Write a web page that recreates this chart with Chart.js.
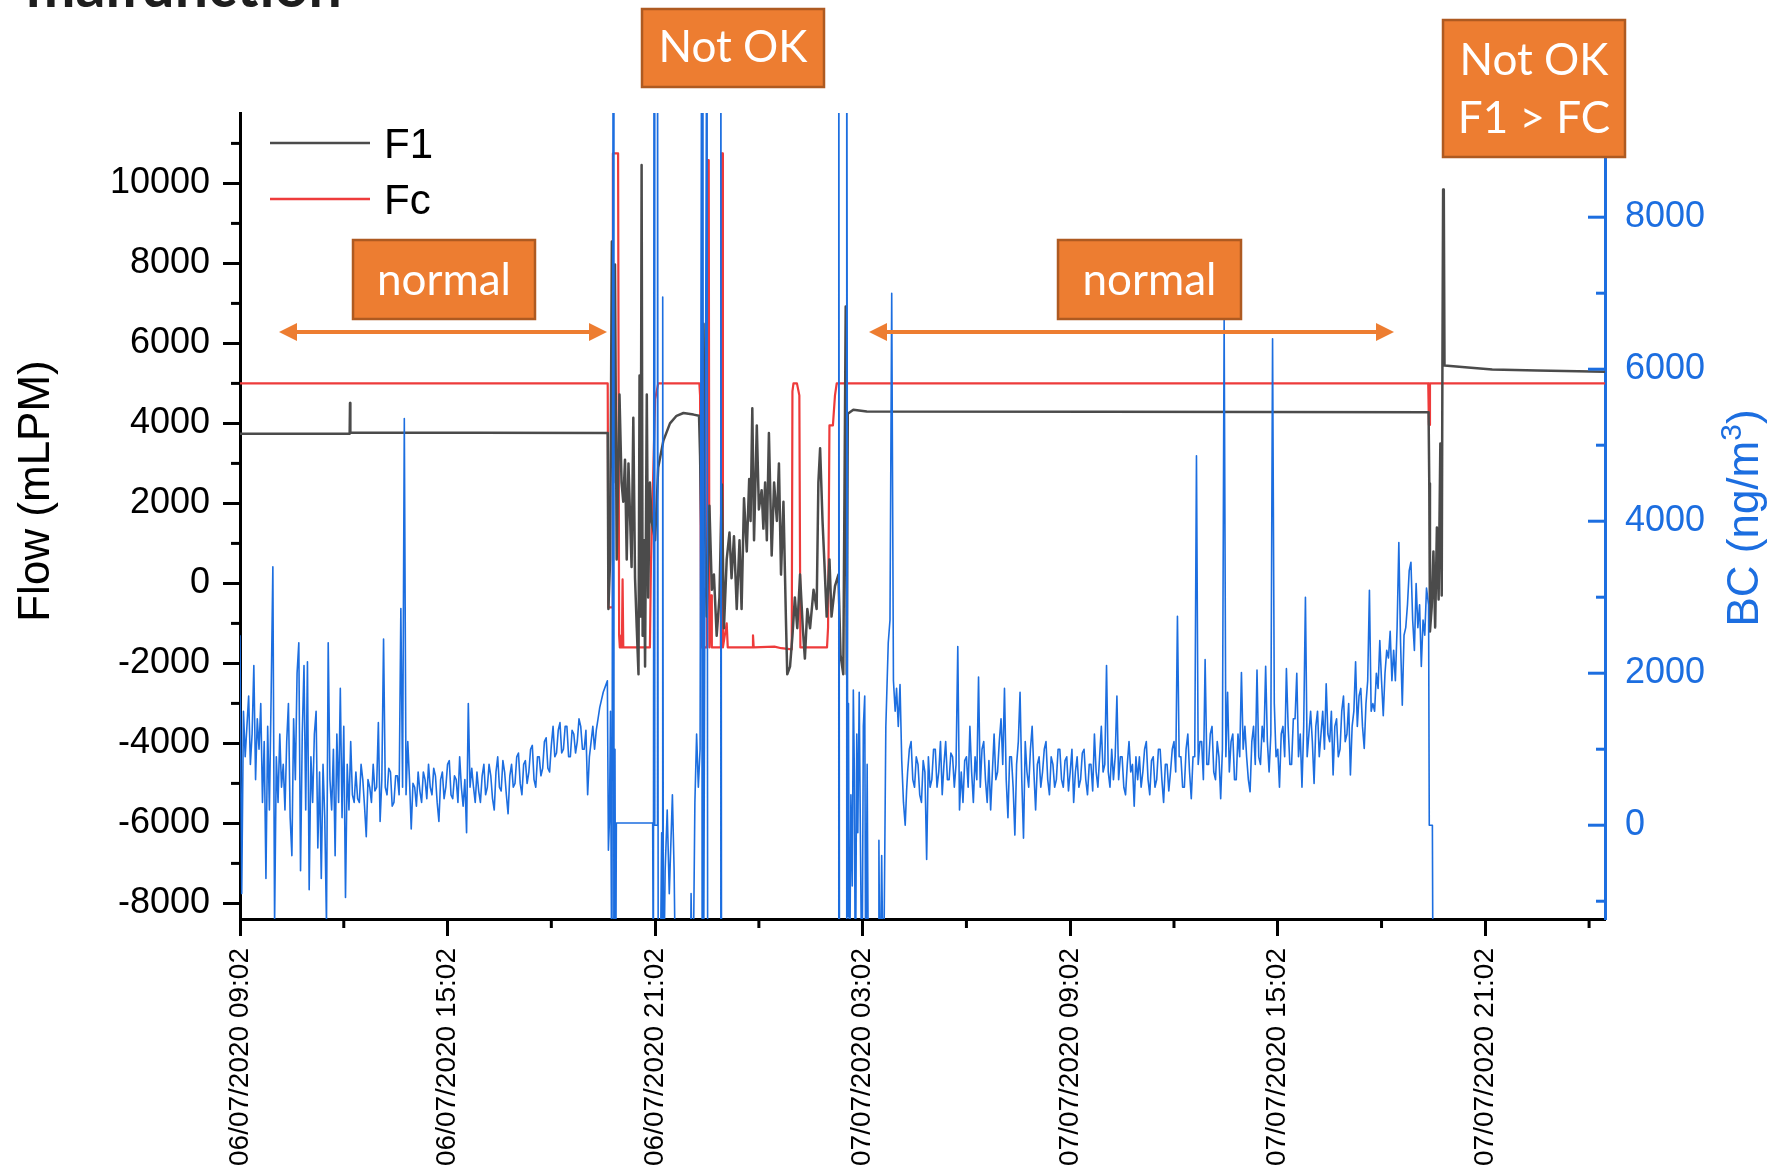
<!DOCTYPE html>
<html>
<head>
<meta charset="utf-8">
<title>Flow and BC</title>
<script src="https://cdn.jsdelivr.net/npm/chart.js@4.4.1/dist/chart.umd.min.js"></script>
<style>
html, body { margin: 0; padding: 0; background: #fff; }
canvas { display: block; }
</style>
</head>
<body>
<canvas id="flow-chart" width="1775" height="1170"></canvas>
<script>
// axis ticks (hours from 06/07/2020 09:02)
const xTickHours = [0, 6, 12, 18, 24, 30, 36],
xTickLabels = ['06/07/2020 09:02', '06/07/2020 15:02', '06/07/2020 21:02', '07/07/2020 03:02',
    '07/07/2020 09:02', '07/07/2020 15:02', '07/07/2020 21:02'],
xMinorHours = [3, 9, 15, 21, 27, 33, 39],
flowTicks = [-8000, -6000, -4000, -2000, 0, 2000, 4000, 6000, 8000, 10000],
flowMinor = [-7000, -5000, -3000, -1000, 1000, 3000, 5000, 7000, 9000, 11000],
bcTicks = [0, 2000, 4000, 6000, 8000],
bcMinor = [-1000, 1000, 3000, 5000, 7000, 9000];

// F1 flow (mLPM)
const f1Hours = [0, 3.17, 3.18, 3.19, 10.63, 10.65, 10.70, 10.75, 10.79, 10.84, 10.89, 10.97, 11.03, 11.08, 11.13,
    11.18, 11.23, 11.28, 11.32, 11.37, 11.42, 11.47, 11.52, 11.55, 11.58, 11.61, 11.64, 11.68, 11.71, 11.76, 11.80,
    11.85, 11.90, 12.00, 12.09, 12.24, 12.43, 12.62, 12.82, 13.11, 13.27, 13.30, 13.35, 13.40, 13.44, 13.49, 13.57,
    13.64, 13.70, 13.78, 13.86, 13.93, 13.99, 14.07, 14.15, 14.21, 14.28, 14.36, 14.44, 14.50, 14.57, 14.65, 14.72,
    14.76, 14.81, 14.86, 14.94, 15.00, 15.08, 15.13, 15.18, 15.23, 15.29, 15.37, 15.44, 15.52, 15.58, 15.64, 15.71,
    15.78, 15.82, 15.90, 15.97, 16.04, 16.11, 16.19, 16.27, 16.33, 16.40, 16.48, 16.58, 16.67, 16.72, 16.77, 16.84,
    16.89, 16.96, 17.04, 17.10, 17.20, 17.30, 17.36, 17.44, 17.51, 17.54, 17.57, 17.73, 18.12, 25.00, 34.36, 34.38,
    34.40, 34.45, 34.50, 34.55, 34.60, 34.65, 34.70, 34.74, 34.76, 34.78, 34.80, 34.82, 35.50, 36.20, 37.50, 39.46];
const f1Flow = [3740, 3740, 4510, 3770, 3760, -640, 600, 8550, 2520, 7970, 600, 4720, 2520, 2040, 3090,
    600, 3000, 1560, 410, 4140, 130, -1120, -2270, 5200, -830, 10460, -1310, 1080, -2080, 4720, -350,
    2520, 1560, 1080, 2900, 3570, 4000, 4190, 4260, 4220, 4190, 3190, 600, 6490, 1560, -830, 1940,
    -160, 220, -1310, -350, 2470, -1120, 600, 1270, 130, 1180, -640, 1080, -640, 2130, 800, 2610,
    1560, 4380, 1080, 3950, 1850, 2330, 1370, 2520, 1080, 3760, 700, 2520, 1560, 3000, 220, 2040,
    -830, -2270, -2080, -1310, -350, -1120, 220, -1120, -1880, -640, -1120, -160, -640, 2520, 3380, 1560,
    600, -830, 600, -830, -70, 220, -1790, -2270, 6920, -2270, 4240, 4340, 4300, 4290, 4280, 2500,
    -1200, -600, 800, -1100, 1400, -400, 3500, -300, 5400, 9850, 9700, 5450, 5400, 5350, 5320, 5290];

// Fc flow (mLPM)
const fcHours = [0, 10.63, 10.65, 10.76, 10.78, 10.93, 10.96, 10.98, 11.04, 11.06, 11.08, 11.80, 11.85, 11.88,
    12.00, 12.09, 13.28, 13.30, 13.33, 13.50, 13.52, 13.55, 13.57, 13.62, 13.64, 13.90, 13.92, 13.94, 13.96,
    14.07, 14.10, 14.81, 14.83, 14.85, 15.45, 15.65, 15.95, 15.97, 16.00, 16.10, 16.17, 16.20, 16.97, 17.00,
    17.04, 17.14, 17.20, 17.25, 34.35, 34.37, 34.39, 34.40, 39.46];
const fcFlow = [5000, 5000, -600, -600, 10750, 10750, -1300, -1600, -1600, 100, -1600, -1600, -1600, 500,
    4600, 5000, 5000, 4700, -1600, -1600, 10580, 10580, -1600, -300, -1600, -1600, 10750, 10750, -1600,
    -1000, -1600, -1600, -1300, -1600, -1580, -1620, -1650, 4800, 5000, 5000, 4700, -1600, -1600, -1100,
    3950, 3950, 4700, 5000, 5000, 3960, 3960, 5000, 5000];

// BC (ng/m3), sampled every 0.05 h outside the fault period
const bcStep = 0.05;
const bcEarlyStart = 0;
const bcEarly = [2500, -900, 1500, 900, 1300, 1700, 800, 1200, 2100, 600, 1400, 1000, 1600, 300, 1100, -700,
    1300, 200, 1700, 3400, -1300, 900, 300, 1200, 500, 800, 200, 1100, 1600, 100, -400, 1400, 600, 2000,
    2400, -600, 1200, 2100, 200, 2150, -850, 900, 300, 1200, 1500, -300, 700, -700, 800, 100, -1300, 2400,
    600, 200, 1000, -400, 1200, 300, 1800, 100, 1300, -950, 800, 200, 1100, 400, 300,
    // 3.40 h onwards
    700, 350, 300, 800, 600, 250, -150, 600, 500, 300, 800, 450,
    500, 1350, 50, 600, 2450, 500, 400, 750, 700, 250, 300, 650, 650, 400, 2850, 500, 5350, 400, 1100, 600,
    -50, 550, 500, 250, 700, 450, 300, 700, 600, 350, 800, 500, 400, 750, 650, 300, 50, 600, 700, 350,
    500, 800, 850, 400, 350, 650, 600, 300, 900, 500, 250, 600, -100, 1600, 500, 750, 500, 300, 700, 450,
    300, 650, 800, 400, 500, 800, 650, 350, 200, 700, 900, 500, 450, 850, 700, 400, 150, 650, 800, 500,
    550, 900, 950, 550, 400, 800, 850, 550, 700, 1000, 1050, 600, 500, 900, 900, 650, 750, 1100, 1150, 750,
    700, 1050, 1300, 900, 950, 1250, 1350, 950, 1000, 1300, 1300, 900, 900, 1250, 1200, 950, 1100, 1400, 1300, 1000,
    1000, 1250, 400, 900, 1100, 1300, 1000, 1250, 1400, 1550, 1650, 1750];
// fault period, off-scale readings
const bcFaultHours = [10.58, 10.62, 10.65, 10.68, 10.71, 10.75, 10.79, 10.81, 10.84, 10.86, 10.88, 11.93, 11.95,
    11.97, 11.99, 12.06, 12.07, 12.09, 12.14, 12.19, 12.21, 12.22, 12.24, 12.29, 12.35, 12.41, 12.50, 12.55,
    12.60, 13.01, 13.04, 13.09, 13.15, 13.20, 13.25, 13.30, 13.35, 13.36, 13.38, 13.40, 13.50, 13.52, 13.88,
    13.90, 13.92, 17.29, 17.31, 17.33, 17.52, 17.54, 17.57, 17.59, 17.62, 17.66, 17.70, 17.73, 17.76, 17.79,
    17.83, 17.86, 17.90, 17.94, 17.98, 18.02, 18.06, 18.09, 18.13, 18.17, 18.45, 18.47, 18.50, 18.55, 18.60,
    18.67, 18.74, 18.79, 18.84, 18.89, 18.94, 18.98, 19.03, 19.08, 19.13, 19.18, 19.23, 19.27];
const bcFault = [1850, 1900, -330, 70, 1500, -2500, 12000, -2500, 1000, -2500, 30, 30, -2500,
    12000, 0, 0, 12000, -2500, -2500, -100, -2500, 6950, -2500, -600, 200, -900, 400, -600,
    -2500, -2500, -900, -2500, 300, 1200, 500, 1000, 12000, -2500, 12000, -2500, 12000, -2500, -2500,
    12000, -2500, -2500, 12000, -2500, -2500, 12000, -1200, 1600, -2500, 400, -800, 1780, 700, -2500,
    1200, -100, 1750, -400, -2500, 1300, 1700, -2500, 800, -2500, -2500, -200, -2500, -400, -2500,
    1300, 2400, 2700, 7000, 1900, 1500, 1800, 1300, 1850, 850, 300, 0, 450];
// after recovery, 19.30 h to 34.30 h
const bcLateStart = 19.3;
const bcLate = [700, 1000, 1100, 600, 500, 900, 800, 400, 300, 850, 700, -450, 900, 500,
    600, 1000, 1000, 500, 700, 1100, 400, 800, 1100, 600, 600, 950, 900, 500, 800, 2350, 200, 700, 300, 850,
    900, 500, 1300, 700, 300, 900, 600, 1950, 500, 1000, 1100, 600, 300, 850, 200, 700, 1200, 600, 700, 1100,
    1400, 800, 1800, 600, 100, 900, 900, 500, -130, 800, 1100, 1750, 600, -170, 1100, 700, 500, 1000, 1300, 700,
    200, 800, 900, 500, 700, 1000, 1100, 600, 400, 900, 800, 500, 600, 1000, 1000, 600, 500, 850, 900, 450,
    700, 1000, 300, 700, 900, 500, 600, 950, 1000, 600, 400, 800, 800, 450, 1200, 700, 500, 900, 1300, 700,
    800, 2100, 700, 500, 1000, 600, 900, 1700, 600, 900, 900, 500, 400, 800, 1100, 700, 800, 250, 900, 600,
    900, 500, 700, 1000, 1100, 600, 400, 850, 900, 500, 600, 1000, 1000, 600, 300, 800, 800, 450, 700, 1000,
    1100, 700, 2750, 900, 900, 500, 500, 1000, 1200, 700, 350, 900, 900, 4860, 800, 1100, 1100, 600, 2180, 800,
    800, 1200, 1300, 700, 600, 1100, 900, 350, 1000, 6650, 900, 1750, 700, 1100, 1200, 600, 600, 1200, 900, 2010,
    1000, 1300, 900, 600, 440, 1100, 1300, 800, 2040, 900, 800, 1300, 1100, 2090, 1100, 700, 1200, 6400, 1600, 900,
    1000, 500, 1200, 1300, 900, 2060, 1300, 800, 800, 1400, 1400, 2000, 900, 1200, 500, 1300, 3000, 900, 1200, 1500,
    1100, 550, 1300, 1500, 900, 1200, 1500, 1000, 1860, 1200, 1100, 1500, 660, 1300, 1400, 900, 1000, 1500, 1700, 1100,
    1200, 1600, 660, 1300, 1500, 2150, 1300, 1700, 1800, 1300, 1010, 1600, 1900, 3090, 1500, 1600, 1500, 2000, 1800, 2430,
    1900, 1440, 2000, 2300, 2200, 2550, 1900, 2300, 1900, 2600, 3720, 2400, 1580, 2500, 2600, 2900, 3350, 3460, 2700, 2300,
    3180, 2600, 2900, 2090, 2700, 2500, 3120];
const bcEndHours = [34.36, 34.38, 34.47, 34.49];
const bcEnd = [2900, 0, 0, -2500];

const hourMax = 39.46, flowMin = -8390, flowMax = 11760, bcMin = -1234, bcMax = 9371;

const grey = '#4b4b4b', red = '#ee3b3b', bcBlue = '#1c6ee0', orange = '#ed7d31';
const axisFont = '"Liberation Sans", Arial, sans-serif';

function pairs(hours, values) {
    return hours.map((h, i) => ({x: h, y: values[i]}));
}
function sampled(start, step, values) {
    return values.map((v, i) => ({x: +(start + i * step).toFixed(2), y: v}));
}

const bcPoints = [].concat(
    sampled(bcEarlyStart, bcStep, bcEarly),
    pairs(bcFaultHours, bcFault),
    sampled(bcLateStart, bcStep, bcLate),
    pairs(bcEndHours, bcEnd)
);

function stroke(ctx, x0, y0, x1, y1) {
    ctx.beginPath();
    ctx.moveTo(x0, y0);
    ctx.lineTo(x1, y1);
    ctx.stroke();
}

function arrow(ctx, x0, x1, yy) {
    ctx.strokeStyle = orange;
    ctx.fillStyle = orange;
    ctx.lineWidth = 4;
    stroke(ctx, x0 + 12, yy, x1 - 12, yy);
    ctx.beginPath();
    ctx.moveTo(x0, yy); ctx.lineTo(x0 + 18, yy - 9); ctx.lineTo(x0 + 18, yy + 9);
    ctx.closePath(); ctx.fill();
    ctx.beginPath();
    ctx.moveTo(x1, yy); ctx.lineTo(x1 - 18, yy - 9); ctx.lineTo(x1 - 18, yy + 9);
    ctx.closePath(); ctx.fill();
}

function noteBox(ctx, x0, y0, x1, y1, lines, baselines) {
    ctx.fillStyle = orange;
    ctx.fillRect(x0, y0, x1 - x0, y1 - y0);
    ctx.strokeStyle = '#ae5a21';
    ctx.lineWidth = 2.5;
    ctx.strokeRect(x0, y0, x1 - x0, y1 - y0);
    ctx.fillStyle = '#fff';
    ctx.font = '44px Lato, "Open Sans", sans-serif';
    ctx.textAlign = 'center';
    ctx.textBaseline = 'alphabetic';
    lines.forEach((t, i) => ctx.fillText(t, (x0 + x1) / 2, baselines[i]));
}

const chartBits = {
    id: 'chartBits',
    afterDraw(chart) {
        const { ctx, chartArea: {left, right, bottom}, scales: {x, y, y1} } = chart;
        ctx.save();

        // minor ticks and the inward ticks of the BC axis
        ctx.lineWidth = 3;
        ctx.strokeStyle = '#000';
        xMinorHours.forEach(h => { const px = x.getPixelForValue(h); stroke(ctx, px, bottom, px, bottom + 9); });
        flowMinor.forEach(v => { const py = y.getPixelForValue(v); stroke(ctx, left - 9, py, left, py); });
        ctx.strokeStyle = bcBlue;
        bcTicks.forEach(v => { const py = y1.getPixelForValue(v); stroke(ctx, right - 17, py, right, py); });
        bcMinor.forEach(v => { const py = y1.getPixelForValue(v); stroke(ctx, right - 9, py, right, py); });

        // axis titles
        ctx.font = '44px ' + axisFont;
        ctx.textAlign = 'center';
        ctx.textBaseline = 'middle';
        ctx.fillStyle = '#000';
        ctx.save();
        ctx.translate(37, 491);
        ctx.rotate(-Math.PI / 2);
        ctx.fillText('Flow (mLPM)', 0, 0);
        ctx.restore();

        ctx.fillStyle = bcBlue;
        ctx.save();
        ctx.translate(1746, 518);
        ctx.rotate(-Math.PI / 2);
        ctx.textAlign = 'left';
        const big = '44px ' + axisFont, small = '30px ' + axisFont;
        ctx.font = big;
        const wa = ctx.measureText('BC (ng/m').width, wc = ctx.measureText(')').width;
        ctx.font = small;
        const wb = ctx.measureText('3').width;
        let tx = -(wa + wb + wc) / 2;
        ctx.font = big;
        ctx.fillText('BC (ng/m', tx, 0);
        ctx.font = small;
        ctx.fillText('3', tx + wa, -13);
        ctx.font = big;
        ctx.fillText(')', tx + wa + wb, 0);
        ctx.restore();

        // legend (F1, Fc)
        [1, 2].forEach((di, i) => {
            const ds = chart.data.datasets[di];
            const ly = 143 + i * 56;
            ctx.strokeStyle = ds.borderColor;
            ctx.lineWidth = 2.5;
            stroke(ctx, 270, ly, 370, ly);
            ctx.fillStyle = '#000';
            ctx.font = '42px ' + axisFont;
            ctx.textAlign = 'left';
            ctx.textBaseline = 'alphabetic';
            ctx.fillText(ds.label, 384, ly + 15);
        });

        // notes
        noteBox(ctx, 353, 240, 535, 319, ['normal'], [295]);
        noteBox(ctx, 1058, 240, 1241, 319, ['normal'], [295]);
        noteBox(ctx, 642, 9, 824, 87, ['Not OK'], [62]);
        noteBox(ctx, 1443, 20, 1625, 157, ['Not OK', 'F1 > FC'], [75, 133]);
        arrow(ctx, 279, 607, 332);
        arrow(ctx, 869, 1394, 332);

        // heading cut off at the top of the slide
        ctx.font = 'bold 100px Lato, sans-serif';
        const w = ctx.measureText('malfunction').width;
        ctx.font = 'bold ' + (100 * 316 / w).toFixed(1) + 'px Lato, sans-serif';
        ctx.fillStyle = '#1e1e1e';
        ctx.textAlign = 'left';
        ctx.textBaseline = 'alphabetic';
        ctx.fillText('malfunction', 26, 7);

        ctx.restore();
    }
};

new Chart(document.getElementById('flow-chart'), {
    type: 'line',
    data: {
        datasets: [{
            label: 'BC',
            data: bcPoints,
            yAxisID: 'y1',
            borderColor: bcBlue,
            borderWidth: 1.6
        }, {
            label: 'F1',
            data: pairs(f1Hours, f1Flow),
            yAxisID: 'y',
            borderColor: grey,
            borderWidth: 2.5
        }, {
            label: 'Fc',
            data: pairs(fcHours, fcFlow),
            yAxisID: 'y',
            borderColor: red,
            borderWidth: 2.2
        }].map((d, i) => Object.assign(d, {
            pointRadius: 0,
            fill: false,
            tension: 0,
            borderJoinStyle: 'round',
            order: i
        }))
    },
    options: {
        responsive: false,
        animation: false,
        events: [],
        layout: { padding: { top: 113, left: 0, right: 0, bottom: 0 } },
        plugins: { legend: { display: false }, tooltip: { enabled: false } },
        scales: {
            x: {
                type: 'linear',
                position: 'bottom',
                min: 0,
                max: hourMax,
                afterBuildTicks: s => { s.ticks = xTickHours.map(v => ({value: v})); },
                afterFit: s => { s.height = 251; },
                ticks: {
                    autoSkip: false,
                    minRotation: 90,
                    maxRotation: 90,
                    padding: 12,
                    color: '#000',
                    font: { family: axisFont, size: 28 },
                    callback: v => xTickLabels[xTickHours.indexOf(v)]
                },
                grid: { drawOnChartArea: false, drawTicks: true, tickLength: 17, tickWidth: 3, tickColor: '#000' },
                border: { display: true, width: 3, color: '#000' }
            },
            y: {
                type: 'linear',
                position: 'left',
                min: flowMin,
                max: flowMax,
                afterBuildTicks: s => { s.ticks = flowTicks.map(v => ({value: v})); },
                afterFit: s => { s.width = 240; },
                ticks: {
                    padding: 13,
                    color: '#000',
                    font: { family: axisFont, size: 36 },
                    callback: v => String(v)
                },
                grid: { drawOnChartArea: false, drawTicks: true, tickLength: 17, tickWidth: 3, tickColor: '#000' },
                border: { display: true, width: 3, color: '#000' }
            },
            y1: {
                type: 'linear',
                position: 'right',
                min: bcMin,
                max: bcMax,
                afterBuildTicks: s => { s.ticks = bcTicks.map(v => ({value: v})); },
                afterFit: s => { s.width = 170; },
                ticks: {
                    padding: 20,
                    color: bcBlue,
                    font: { family: axisFont, size: 36 },
                    callback: v => String(v)
                },
                grid: { drawOnChartArea: false, drawTicks: false },
                border: { display: true, width: 3, color: bcBlue }
            }
        }
    },
    plugins: [chartBits]
});
</script>
</body>
</html>
